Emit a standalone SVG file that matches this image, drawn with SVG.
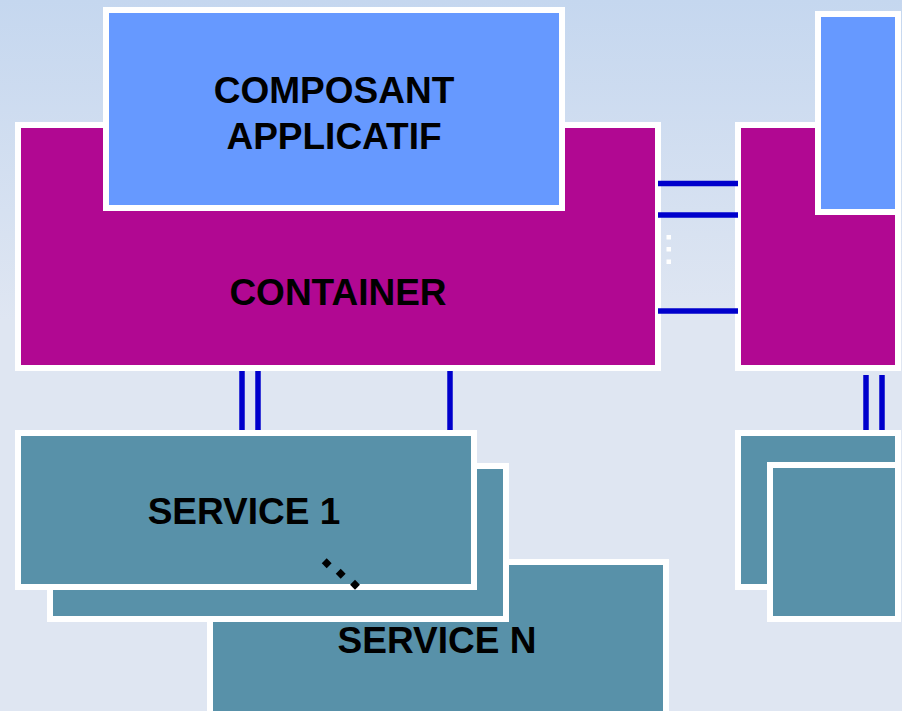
<svg xmlns="http://www.w3.org/2000/svg" width="902" height="711" viewBox="0 0 902 711">
  <style>
    .box { stroke: #ffffff; stroke-width: 6; }
    .comp { fill: #6699ff; }
    .cont { fill: #b10892; }
    .serv { fill: #5891a9; }
    .link { stroke: #0000cc; stroke-width: 5.5; fill: none; }
    .label { font-family: "Liberation Sans", Arial, sans-serif; font-weight: bold; font-size: 37px; fill: #000000; text-anchor: middle; }
  </style>
  <defs>
    <linearGradient id="bg" x1="0" y1="0" x2="0" y2="1">
      <stop offset="0" stop-color="#c5d7ef"/>
      <stop offset="0.45" stop-color="#dfe6f2"/>
      <stop offset="1" stop-color="#dfe6f2"/>
    </linearGradient>
  </defs>

  <rect x="0" y="0" width="902" height="711" fill="url(#bg)"/>

  <!-- left container with its component -->
  <g id="container">
    <rect class="box cont" x="18" y="125" width="640" height="243"/>
    <text class="label" x="338" y="305">CONTAINER</text>
  </g>
  <g id="composant">
    <rect class="box comp" x="106" y="10" width="456" height="198"/>
    <text class="label" x="334" y="103">COMPOSANT</text>
    <text class="label" x="334" y="148.5">APPLICATIF</text>
  </g>

  <!-- right container with its component -->
  <g id="container-2">
    <rect class="box cont" x="738" y="125" width="160" height="243"/>
  </g>
  <g id="composant-2">
    <rect class="box comp" x="818" y="14" width="80" height="198"/>
  </g>

  <!-- connectors -->
  <g id="connectors">
    <line class="link" x1="658" y1="183.5" x2="738" y2="183.5"/>
    <line class="link" x1="658" y1="215" x2="738" y2="215"/>
    <line class="link" x1="658" y1="311" x2="738" y2="311"/>
    <g fill="#ffffff">
      <rect x="666.5" y="235" width="4.5" height="4.5"/>
      <rect x="666.5" y="247" width="4.5" height="4.5"/>
      <rect x="666.5" y="259.5" width="4.5" height="4.5"/>
    </g>
    <line class="link" x1="242" y1="371" x2="242" y2="431"/>
    <line class="link" x1="258" y1="371" x2="258" y2="431"/>
    <line class="link" x1="450" y1="371" x2="450" y2="431"/>
    <line class="link" x1="866" y1="375" x2="866" y2="431"/>
    <line class="link" x1="882" y1="375" x2="882" y2="431"/>
  </g>

  <!-- left service stack -->
  <g id="service-n">
    <rect class="box serv" x="210" y="562" width="456" height="170"/>
    <text class="label" x="437" y="653">SERVICE N</text>
  </g>
  <g id="service-mid">
    <rect class="box serv" x="50" y="466" width="456" height="153"/>
  </g>
  <g id="service-1">
    <rect class="box serv" x="18" y="433" width="456" height="154"/>
    <text class="label" x="244" y="524">SERVICE 1</text>
  </g>
  <g id="ellipsis" fill="#000000">
    <rect x="-3.5" y="-3.5" width="7" height="7" transform="translate(326.7 563.3) rotate(45)"/>
    <rect x="-3.5" y="-3.5" width="7" height="7" transform="translate(340.7 573.7) rotate(45)"/>
    <rect x="-3.5" y="-3.5" width="7" height="7" transform="translate(355 584.7) rotate(45)"/>
  </g>

  <!-- right service stack -->
  <g id="service-r1">
    <rect class="box serv" x="738" y="433" width="160" height="154"/>
  </g>
  <g id="service-r2">
    <rect class="box serv" x="770" y="465" width="128" height="154"/>
  </g>
</svg>
